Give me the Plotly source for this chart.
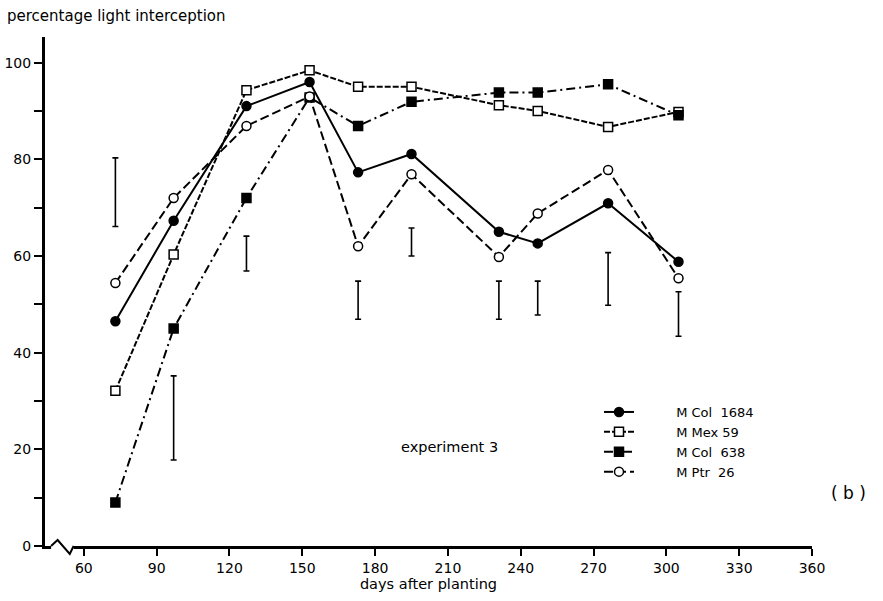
import plotly.graph_objects as go

days = [73, 97, 127, 153, 173, 195, 231, 247, 276, 305]
col1684 = [46.5, 67.3, 91, 96, 77.3, 81.1, 65.0, 62.6, 70.9, 58.8]
mex59 = [32.1, 60.3, 94.3, 98.4, 95.0, 95.0, 91.2, 90.0, 86.7, 89.8]
col638 = [9.0, 45.0, 72.0, 92.8, 86.9, 91.9, 93.8, 93.8, 95.5, 89.1]
ptr26 = [54.4, 72.0, 86.9, 93.0, 62.0, 76.9, 59.8, 68.8, 77.8, 55.4]

lsd_days = [73, 97, 127, 173, 195, 231, 247, 276, 305]
lsd_low = [66.1, 17.8, 56.9, 46.9, 60.0, 46.9, 47.8, 49.8, 43.4]
lsd_high = [80.3, 35.2, 64.1, 54.8, 65.8, 54.8, 54.8, 60.7, 52.6]

x_ticks = [60, 90, 120, 150, 180, 210, 240, 270, 300, 330, 360]
y_ticks = [0, 10, 20, 30, 40, 50, 60, 70, 80, 90, 100]
y_labels = ["0", "", "20", "", "40", "", "60", "", "80", "", "100"]

FONT = "DejaVu Sans"
X0, X1 = 44, 360
Y0, Y1 = 0, 105.3
PAD = "\u00a0" * 9

fig = go.Figure()

series = [
    ("M Col\u00a0\u00a01684", col1684, "solid", "circle", "black"),
    ("M Mex 59", mex59, "6px,2px", "square", "white"),
    ("M Col\u00a0\u00a0638", col638, "9px,4px,2px,4px", "square", "black"),
    ("M Ptr\u00a0\u00a026", ptr26, "9px,4px", "circle", "white"),
]
for name, vals, dash, sym, fill in series:
    fig.add_trace(go.Scatter(
        x=days, y=vals, name=PAD + name, mode="lines+markers",
        line=dict(color="black", width=2, dash=dash),
        marker=dict(symbol=sym, size=9, color=fill,
                    line=dict(color="black", width=1.5)),
        cliponaxis=False,
    ))

mid = [(a + b) / 2 for a, b in zip(lsd_low, lsd_high)]
fig.add_trace(go.Scatter(
    x=lsd_days, y=mid, mode="markers", showlegend=False, hoverinfo="skip",
    marker=dict(size=1, color="rgba(0,0,0,0)"),
    error_y=dict(type="data", symmetric=False,
                 array=[h - m for h, m in zip(lsd_high, mid)],
                 arrayminus=[m - l for m, l in zip(mid, lsd_low)],
                 color="black", thickness=1.6, width=3),
))

def px_x(d):
    return (d - X0) / (X1 - X0)

# axis break (zigzag) on the x axis
fig.add_shape(type="rect", xref="paper", yref="paper",
              x0=px_x(46.5), x1=px_x(55.8), y0=-0.009, y1=0.009,
              fillcolor="white", line=dict(width=0), layer="above")
fig.add_shape(type="path", xref="paper", yref="paper", layer="above",
              path="M {a},0 L {b},0.0118 L {c},-0.0157 L {d},0".format(
                  a=px_x(46.5), b=px_x(49.2), c=px_x(54.2), d=px_x(55.8)),
              line=dict(color="black", width=2))

fig.update_layout(
    width=883, height=601,
    margin=dict(l=45, r=71, t=37, b=55, autoexpand=False),
    paper_bgcolor="white", plot_bgcolor="white",
    font=dict(family=FONT, size=14, color="black"),
    xaxis=dict(range=[X0, X1], tickvals=x_ticks, showgrid=False, zeroline=False,
               automargin=False,
               showline=True, linewidth=3, linecolor="black",
               ticks="outside", ticklen=7, tickwidth=2, tickcolor="black",
               tickfont=dict(size=14), title=dict(text="days after planting",
               font=dict(size=14.5), standoff=4)),
    yaxis=dict(range=[Y0, Y1], tickvals=y_ticks, ticktext=y_labels,
               showgrid=False, zeroline=False, automargin=False,
               showline=True, linewidth=3, linecolor="black",
               ticks="outside", ticklen=8, tickwidth=2, tickcolor="black",
               tickfont=dict(size=14)),
    legend=dict(x=(599 - 45) / 767, y=(546 - 397) / 509, xanchor="left", yanchor="top",
                bgcolor="rgba(0,0,0,0)", borderwidth=0,
                font=dict(size=13), tracegroupgap=0),
    showlegend=True,
)

fig.add_annotation(text="percentage light interception", xref="paper", yref="paper",
                   x=(5 - 45) / 767, y=(546 - 16) / 509, xanchor="left", yanchor="middle",
                   showarrow=False, font=dict(size=15))
fig.add_annotation(text="experiment 3", xref="paper", yref="paper",
                   x=(399 - 45) / 767, y=(546 - 447) / 509, xanchor="left", yanchor="middle",
                   showarrow=False, font=dict(size=14.5))
fig.add_annotation(text="( b )", xref="paper", yref="paper",
                   x=(848 - 45) / 767, y=(546 - 493) / 509, xanchor="center", yanchor="middle",
                   showarrow=False, font=dict(size=17))

fig.write_html("out.html", config={"displayModeBar": False},
               post_script="document.body.style.margin='0';")
